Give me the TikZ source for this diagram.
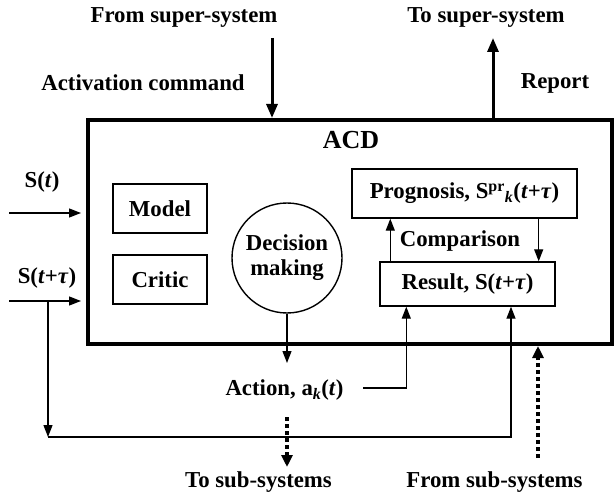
\documentclass[tikz,border=0pt]{standalone}
\usepackage{fontspec}
\setmainfont{Liberation Serif}
\usetikzlibrary{shapes,arrows.meta,positioning,calc}
\tikzstyle{lbl} = [font=\fontsize{22.8}{25}\selectfont\bfseries, inner sep=0pt, align=center]
\tikzstyle{block} = [rectangle, draw=black, line width=1.4pt, text centered, lbl]
\tikzstyle{decide} = [circle, draw=black, line width=1.4pt, minimum size=110pt, lbl]
\tikzstyle{arrow} = [line width=1.3pt, -{Triangle[length=12pt,width=9pt]}]
\tikzstyle{bigarrow} = [line width=3pt, -{Triangle[length=14pt,width=11pt]}]
\tikzstyle{dotarrow} = [line width=3.5pt, dash pattern=on 4pt off 3pt, -{Triangle[length=12pt,width=11pt]}]

\begin{document}
\begin{tikzpicture}[x=1pt, y=-1pt, node distance=71pt]
    \useasboundingbox (0,0) rectangle (614,492);
    % Nodes
    \node (acd) [draw=black, line width=4pt, minimum width=524pt, minimum height=224pt] at (350,232) {};
    \node (acdlbl) [lbl, font=\fontsize{26}{28}\selectfont\bfseries] at (351,140) {ACD};
    \node (fromsuper) [lbl] at (184,17) {From super-system};
    \node (tosuper) [lbl] at (486,17) {To super-system};
    \node (activ) [lbl] at (143,83) {Activation command};
    \node (report) [lbl] at (555,83) {Report};
    \node (model) [block, minimum width=94pt, minimum height=49pt] at (160,208.5) {Model};
    \node (critic) [block, minimum width=94pt, minimum height=49pt, below of=model] {Critic};
    \node (dec) [decide] at (287,258) {Decision\\making};
    \node (prog) [block, minimum width=225pt, minimum height=49pt] at (464.5,193.5) {Prognosis, S\textsuperscript{pr}\textsubscript{\textit{k}}(\textit{t}+\textit{τ})};
    \node (result) [block, minimum width=175pt, minimum height=44pt, below of=prog, yshift=-19.5pt, xshift=3pt] {Result, S(\textit{t}+\textit{τ})};
    \node (comp) [lbl] at (460,241) {Comparison};
    \node (st) [lbl] at (42,182) {S(\textit{t})};
    \node (stau) [lbl] at (47,278) {S(\textit{t}+\textit{τ})};
    \node (action) [lbl] at (284.5,390) {Action, a\textsubscript{\textit{k}}(\textit{t})};
    \node (tosub) [lbl] at (258.5,482) {To sub-systems};
    \node (fromsub) [lbl] at (494.5,482) {From sub-systems};
    % Free ends
    \coordinate (fsin) at (272,38);
    \coordinate (tsout) at (493,38);
    \coordinate (stin) at (9,213);
    \coordinate (stauin) at (9,301);
    \coordinate (split) at (48,301);
    \coordinate (corner) at (48,437);
    \coordinate (fback) at (511,437);
    \coordinate (actin) at (287,363);
    \coordinate (actout) at (363,388);
    \coordinate (todot) at (287,417);
    \coordinate (todotend) at (287,467);
    \coordinate (fromdot) at (538,458);

    % Arrows
    \draw [bigarrow] (fsin) -- (fsin |- acd.north);
    \draw [bigarrow] (tsout |- acd.north) -- (tsout);
    \draw [arrow, shorten >=5pt] (stin) -- (stin -| acd.west);
    \draw [arrow, shorten >=5pt] (stauin) -- (stauin -| acd.west);
    \draw [arrow] (split) -- (corner);
    \draw [arrow] (corner) -| (fback |- result.south);
    \draw [arrow] (dec) -- (actin);
    \draw [arrow] (actout) -| ([xshift=27pt]result.south west);
    \draw [arrow] ([xshift=11pt]result.north west) -- ([xshift=39pt]prog.south west);
    \draw [arrow] ([xshift=-39pt]prog.south east) -- ([xshift=-17pt]result.north east);
    \draw [dotarrow] (todot) -- (todotend);
    \draw [dotarrow] (fromdot) -- (fromdot |- acd.south);
\end{tikzpicture}
\end{document}
